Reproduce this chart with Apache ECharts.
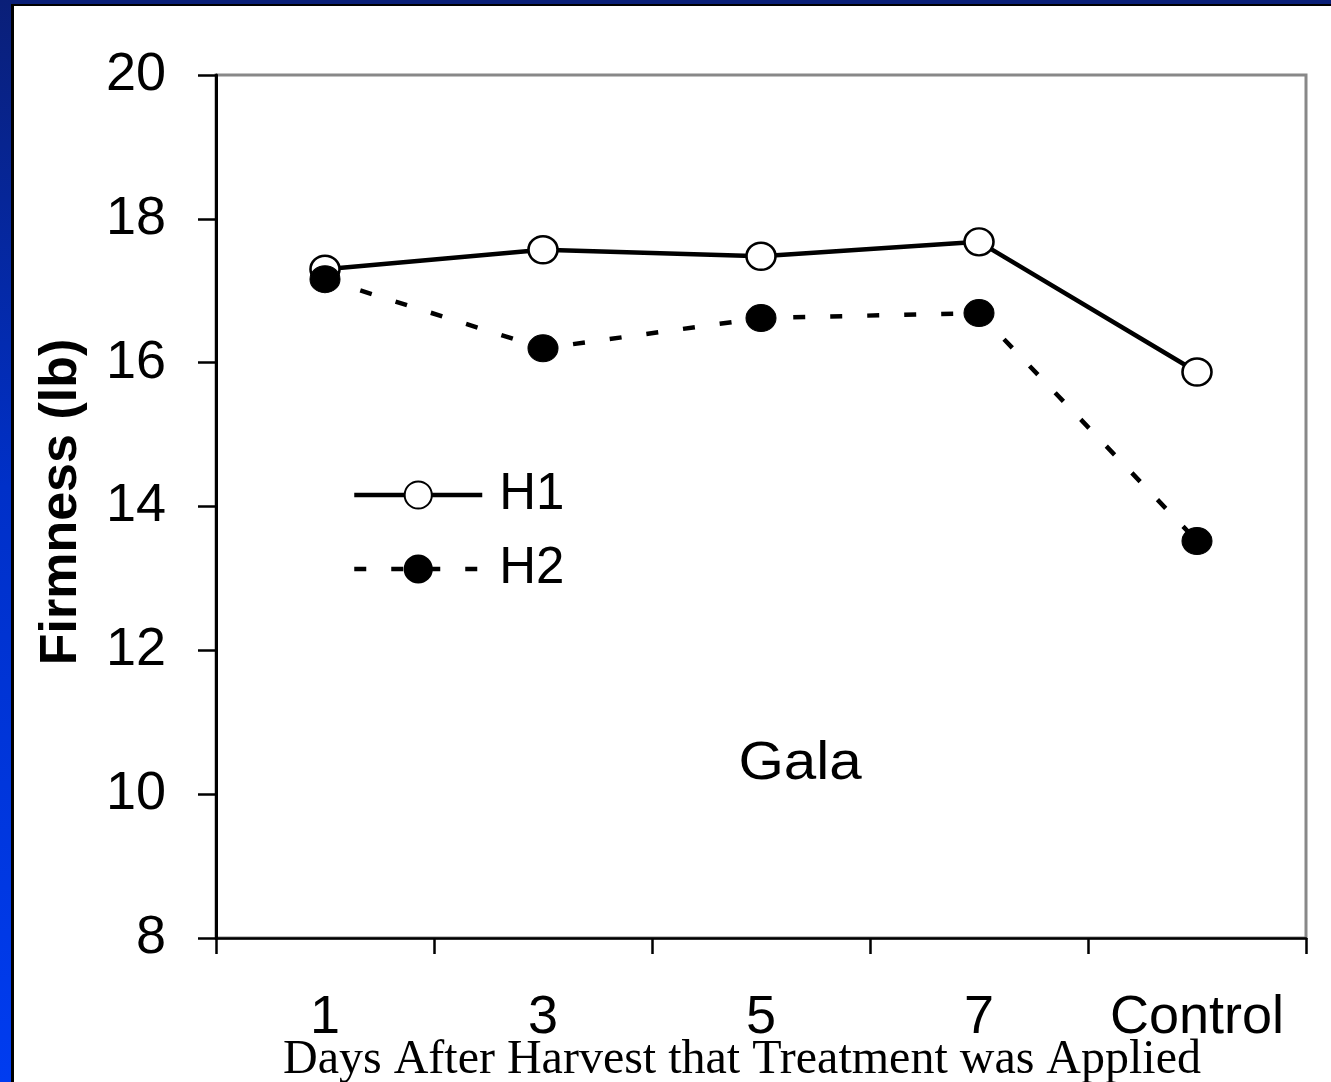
<!DOCTYPE html>
<html>
<head>
<meta charset="utf-8">
<script src="https://cdn.jsdelivr.net/npm/echarts@6/dist/echarts.min.js"></script>
<style>
html,body{margin:0;padding:0;background:#fff;}
#chart{width:1331px;height:1082px;}
</style>
</head>
<body>
<div id="chart"></div>
<script>
const categories = ['1', '3', '5', '7', 'Control'];
const h1 = [17.30, 17.57, 17.48, 17.68, 15.87];
const h2 = [17.16, 16.20, 16.62, 16.69, 13.52];
const yTicks = { min: 8, max: 20, interval: 2 };
const seriesNames = ['H1', 'H2'];
const yTitle = 'Firmness (lb)';
const xTitle = 'Days After Harvest that Treatment was Applied';
const noteText = 'Gala';

const SANS = '"Liberation Sans", Arial, sans-serif';
const SERIF = '"Liberation Serif", "Times New Roman", serif';

const chart = echarts.init(document.getElementById('chart'), null, { renderer: 'canvas' });

chart.setOption({
  animation: false,
  backgroundColor: '#fff',
  grid: {
    left: 216, top: 75, right: 25, bottom: 144,
    show: true, borderColor: '#888', borderWidth: 3, backgroundColor: 'transparent'
  },
  xAxis: {
    type: 'category',
    data: categories,
    boundaryGap: true,
    axisLine: { lineStyle: { color: '#000', width: 2.5 } },
    axisTick: { show: true, length: 16, lineStyle: { color: '#000', width: 2.5 } },
    axisLabel: { color: '#000', fontSize: 54, fontFamily: SANS, margin: 53, interval: 0 },
    splitLine: { show: false }
  },
  yAxis: {
    type: 'value',
    min: yTicks.min, max: yTicks.max, interval: yTicks.interval,
    axisLine: { show: true, lineStyle: { color: '#000', width: 3 } },
    axisTick: { show: true, inside: false, length: 18, lineStyle: { color: '#000', width: 2.5 } },
    axisLabel: { color: '#000', fontSize: 54, fontFamily: SANS, margin: 50 },
    splitLine: { show: false }
  },
  legend: {
    orient: 'vertical',
    left: 347, top: 464,
    itemWidth: 128, itemHeight: 34, itemGap: 22,
    data: seriesNames,
    lineStyle: { width: 4.5 },
    textStyle: { color: '#000', fontSize: 51, fontFamily: SANS, lineHeight: 52, padding: [0, 0, 0, 12] }
  },
  series: [
    {
      name: seriesNames[0], type: 'line', data: h1,
      symbol: 'circle', symbolSize: [29, 27],
      lineStyle: { color: '#000', width: 4.5 },
      itemStyle: { color: '#fff', borderColor: '#000', borderWidth: 2.5 },
      z: 3
    },
    {
      name: seriesNames[1], type: 'line', data: h2,
      symbol: 'circle', symbolSize: [30, 27],
      lineStyle: { color: '#000', width: 4.5, type: [12, 25] },
      itemStyle: { color: '#000', borderColor: '#000', borderWidth: 1 },
      z: 4
    }
  ],
  graphic: [
    { type: 'rect', shape: { x: 0, y: 0, width: 1331, height: 4 }, style: { fill: '#0a1f78' }, z: 100 },
    { type: 'rect', shape: { x: 0, y: 4, width: 1331, height: 2 }, style: { fill: '#000' }, z: 100 },
    { type: 'rect', shape: { x: 0, y: 0, width: 11, height: 1082 },
      style: { fill: new echarts.graphic.LinearGradient(0, 0, 0, 1, [
        { offset: 0, color: '#0a1f78' }, { offset: 0.45, color: '#0030c8' }, { offset: 1, color: '#003cf0' }
      ]) }, z: 100 },
    { type: 'rect', shape: { x: 11, y: 4, width: 3, height: 1078 }, style: { fill: '#000' }, z: 100 },
    { type: 'text', x: 62, y: 502, rotation: Math.PI / 2,
      style: { text: yTitle, font: 'bold 52px ' + SANS, fill: '#000', align: 'center', verticalAlign: 'middle' }, z: 50 },
    { type: 'text', x: 742, y: 1060,
      style: { text: xTitle, font: '48px ' + SERIF, fill: '#000', align: 'center', verticalAlign: 'middle',
        shadowColor: 'rgba(0,0,0,0.55)', shadowBlur: 4, shadowOffsetX: 3, shadowOffsetY: 3 }, z: 50 },
    { type: 'text', x: 800, y: 764, scaleX: 1.08,
      style: { text: noteText, font: '54px ' + SANS, fill: '#000', align: 'center', verticalAlign: 'middle' }, z: 50 }
  ]
});
</script>
</body>
</html>
